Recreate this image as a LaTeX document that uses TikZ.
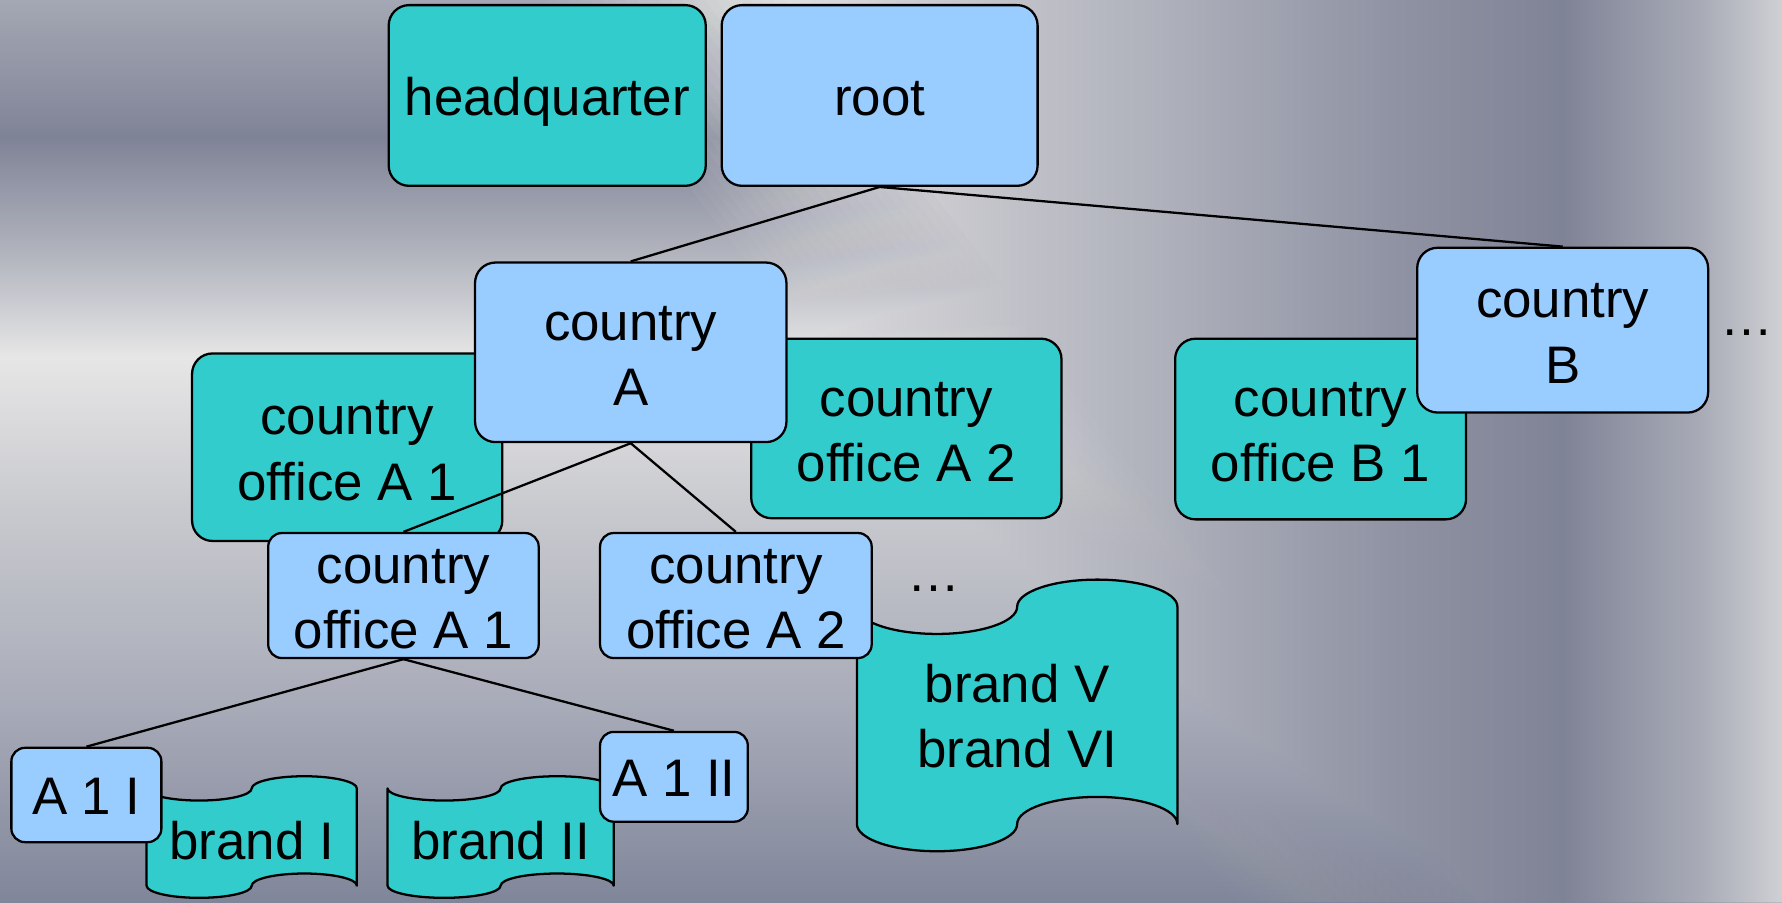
\documentclass[tikz,border=0pt]{standalone}
\usepackage{fontspec}
\setmainfont{Liberation Sans}
\definecolor{tealbox}{HTML}{33CCCC}
\definecolor{bluebox}{HTML}{99CCFF}
\definecolor{bgla}{HTML}{80869A}
\definecolor{bglb}{HTML}{A8ABB8}
\definecolor{bglc}{HTML}{C8C9CE}
\definecolor{bgld}{HTML}{E6E6E6}
\definecolor{bgle}{HTML}{B0B2BC}
\definecolor{bglf}{HTML}{7F8396}
\definecolor{bglg}{HTML}{A4A8B4}
\definecolor{bgra}{HTML}{E6E6E6}
\definecolor{bgrb}{HTML}{CFCFD3}
\definecolor{bgrc}{HTML}{B0B2BC}
\definecolor{bgrd}{HTML}{8E92A2}
\definecolor{bgre}{HTML}{7F8396}
\definecolor{bgrf}{HTML}{A8ABB6}
\definecolor{bgrg}{HTML}{CFD0D4}
\pgfdeclareverticalshading{leftbg}{100bp}{color(0bp)=(bgla); color(25bp)=(bgla); color(35.96bp)=(bglb); color(46.66bp)=(bglc); color(55.23bp)=(bgld); color(61.15bp)=(bgle); color(67.38bp)=(bglf); color(75bp)=(bglg); color(100bp)=(bglg)}
\pgfdeclarehorizontalshading{rightbg}{100bp}{color(0bp)=(bgra); color(45.73bp)=(bgra); color(50.26bp)=(bgrb); color(57.27bp)=(bgrc); color(64.29bp)=(bgrd); color(68.88bp)=(bgre); color(72.70bp)=(bgrf); color(75bp)=(bgrg); color(100bp)=(bgrg)}
% punched tape: #1 = left x, #2 = top y, #3 = width, #4 = height (picture units, 1 unit = 0.5pt)
\newcommand\mytape[4]{%
 \draw[tapestyle] ({#1},{#2+#4/10})
  arc[start angle=180, end angle=360, x radius={#3/8*1pt}, y radius={#4/20*1pt}]
  arc[start angle=180, end angle=0, x radius={#3/8*1pt}, y radius={#4/20*1pt}]
  -- ({#1+#3},{#2+#4*9/10})
  arc[start angle=0, end angle=180, x radius={#3/8*1pt}, y radius={#4/20*1pt}]
  arc[start angle=0, end angle=-180, x radius={#3/8*1pt}, y radius={#4/20*1pt}]
  -- cycle;}
\begin{document}
\begin{tikzpicture}[x=0.5pt,y=-0.5pt,
  every node/.style={font=\fontsize{23.25pt}{28.7pt}\selectfont},
  boxbase/.style={draw=black, line width=1pt, inner sep=0pt, align=center, text height=21.5pt, text depth=4.2pt},
  twolines/.style={text height=50.8pt, text depth=4.2pt},
  tbox/.style={boxbase, fill=tealbox},
  bbox/.style={boxbase, fill=bluebox},
  tapestyle/.style={draw=black, line width=1pt, fill=tealbox, line join=round},
  tapetext/.style={inner sep=0pt, align=center, text height=21.5pt, text depth=4.2pt},
  conn/.style={draw=black, line width=1pt},
  dotsstyle/.style={inner sep=0pt}]
\useasboundingbox (0,0) rectangle (1568,794);
% background
\shade[shading=leftbg] (0,0) rectangle (1568,794);
\foreach \k in {1,...,22} {
  \pgfmathsetmacro\op{1/(23-\k)}
  \begin{scope}
    \clip ({470+10*\k},0) -- (1568,0) -- (1568,794) -- ({1080+10*\k},794) -- cycle;
    \shade[shading=rightbg, opacity=\op] (0,0) rectangle (1568,794);
  \end{scope}
}
% boxes
\node[tbox, rounded corners=9pt, minimum width=139.5pt, minimum height=79.5pt] (hq) at (481.5,84) {headquarter};
\node[bbox, rounded corners=9pt, minimum width=139pt, minimum height=79.5pt] (root) at (774,84) {root};
\node[tbox, twolines, rounded corners=9pt, minimum width=136.5pt, minimum height=82.5pt] (toa1) at (305.5,393.5) {country\\office A 1};
\node[tbox, twolines, rounded corners=9pt, minimum width=136.5pt, minimum height=79pt] (toa2) at (797.5,377) {country\\office A 2};
\node[bbox, twolines, rounded corners=9pt, minimum width=137pt, minimum height=79pt] (ca) at (555,310) {country\\A};
\node[tbox, twolines, rounded corners=9pt, minimum width=128pt, minimum height=79.5pt] (tob1) at (1162,377.5) {country\\office B 1};
\node[bbox, twolines, rounded corners=9pt, minimum width=128pt, minimum height=72.5pt] (cb) at (1375,290.5) {country\\B};
\node[dotsstyle] (dotsb) at (1537,293) {…};
% brand V tape
\mytape{754}{510}{282}{239}
\node[tapetext, twolines] (brandv) at (895,629) {brand V\\brand VI};
\node[bbox, twolines, rounded corners=6pt, minimum width=119pt, minimum height=53pt] (boa1) at (355,524) {country\\office A 1};
\node[bbox, twolines, rounded corners=6pt, minimum width=119.5pt, minimum height=53pt] (boa2) at (647.5,524) {country\\office A 2};
\node[dotsstyle] (dotsa) at (822,518) {…};
% brand I and II tapes
\mytape{129}{683}{185}{107}
\node[tapetext] (brandi) at (221.5,739) {brand I};
\mytape{341}{683}{199}{107}
\node[tapetext] (brandii) at (440.5,739) {brand II};
\node[bbox, rounded corners=6pt, minimum width=66pt, minimum height=41.5pt] (a1i) at (76,699.5) {A 1 I};
\node[bbox, rounded corners=6pt, minimum width=65pt, minimum height=39.5pt] (a1ii) at (593,683.5) {A 1 II};
% connectors
\draw[conn] (root.south) -- (ca.north);
\draw[conn] (root.south) -- (cb.north);
\draw[conn] (ca.south) -- (boa1.north);
\draw[conn] (ca.south) -- (boa2.north);
\draw[conn] (boa1.south) -- (a1i.north);
\draw[conn] (boa1.south) -- (a1ii.north);
\end{tikzpicture}
\end{document}
